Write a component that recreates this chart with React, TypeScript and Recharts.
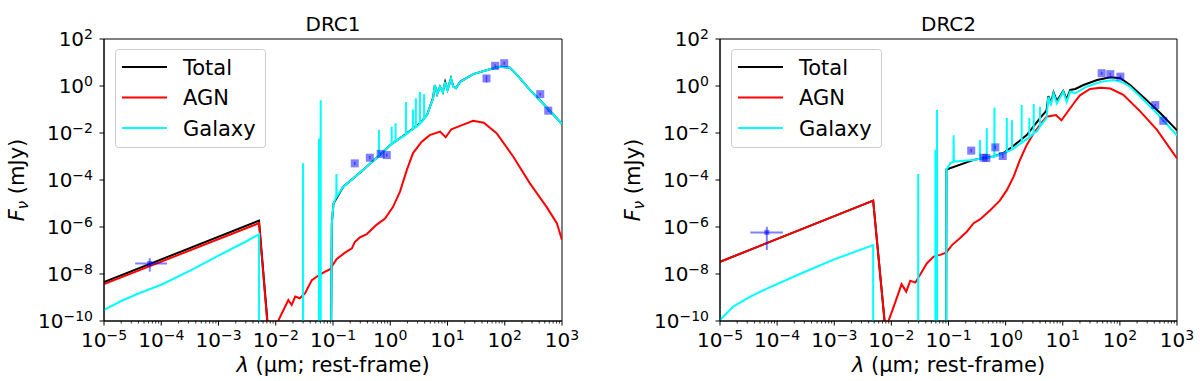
import React from "react";
import { ComposedChart, ErrorBar, Line, ReferenceArea, Scatter, XAxis, YAxis } from "recharts";

const FONT = "DejaVu Sans";

// [wavelength (um), F_nu (mJy)]
type Pt = [number, number];

const drc1Total: Pt[] = [
  [1e-5, 4.5e-9], [5.1e-3, 1.86e-6], [7.1e-3, 1.2e-10], [7.2e-3, 1e-14], [0.0905, 1e-14],
  [0.0955, 1.45e-6], [0.102, 1e-5], [0.151, 5.2e-5], [0.224, 1.17e-4], [0.339, 2.7e-4],
  [0.447, 5.1e-4], [0.66, 1.15e-3], [1.0, 3.1e-3], [1.7, 7.6e-3], [2.9, 2.0e-2],
  [3.5, 3.0e-2], [4.4, 6.0e-2], [5.6, 0.31], [6.0, 1.1], [6.6, 0.46], [7.4, 0.94], [8.3, 0.55],
  [9.1, 1.5], [10, 0.69], [11.5, 2.1], [12.6, 0.94], [14.1, 0.81], [16.6, 1.5], [28, 3.2],
  [55, 5.2], [83, 6.6], [123, 6.0], [170, 2.7], [275, 0.68], [468, 0.18], [1000, 2.4e-2],
];

const drc1Agn: Pt[] = [
  [1e-5, 3.7e-9], [5.1e-3, 1.45e-6], [7.1e-3, 1e-10], [7.2e-3, 1e-14], [1.09e-2, 1e-14],
  [1.1e-2, 1e-10], [1.66e-2, 7.8e-10], [1.9e-2, 4.8e-10], [2.19e-2, 1.1e-9], [2.63e-2, 9.3e-10],
  [3.24e-2, 1.5e-9], [4.27e-2, 5.5e-9], [5.25e-2, 7.8e-9], [6.76e-2, 1.15e-8], [8.9e-2, 1.6e-8],
  [0.115, 4.3e-8], [0.162, 8.1e-8], [0.214, 1.23e-7], [0.24, 2.3e-7], [0.295, 3.6e-7],
  [0.39, 5e-7], [0.575, 1.23e-6], [0.81, 2.3e-6], [1.12, 7.2e-6], [1.48, 3.2e-5],
  [1.95, 2.7e-4], [2.5, 1.4e-3], [3.55, 4.3e-3], [4.9, 8.1e-3], [7.4, 1.15e-2],
  [9.3, 6.6e-3], [11.7, 1.45e-2], [16.6, 2.0e-2], [28, 3.3e-2], [43, 2.75e-2],
  [72, 9.8e-3], [141, 9.8e-4], [275, 7.2e-5], [537, 7.2e-6], [813, 1.45e-6], [1000, 2.8e-7],
];

const drc1Galaxy: Pt[] = [
  [1e-5, 2.95e-10], [2e-5, 7.1e-10], [4e-5, 1.48e-9], [1e-4, 3.5e-9], [3.2e-4, 1.4e-8],
  [1e-3, 6e-8], [3.2e-3, 2.6e-7], [5.1e-3, 4.9e-7], [5.12e-3, 1e-14],
  [0.0299, 1e-14], [0.03, 5.1e-4], [0.0301, 1e-14],
  [0.0567, 1e-14], [0.0569, 5.9e-3], [0.0571, 1e-14],
  [0.0608, 1e-14], [0.061, 0.25], [0.0612, 1e-14],
  [0.0905, 1e-14], [0.0955, 1.45e-6], [0.102, 1e-5],
  [0.114, 1.9e-5], [0.115, 1.8e-4], [0.116, 1.95e-5],
  [0.151, 5.2e-5], [0.224, 1.17e-4], [0.339, 2.7e-4], [0.447, 5.1e-4],
  [0.634, 1.05e-3], [0.635, 1.35e-2], [0.636, 1.05e-3],
  [0.66, 1.15e-3], [1.0, 3.1e-3],
  [1.059, 3.4e-3], [1.06, 1.86e-2], [1.061, 3.4e-3],
  [1.239, 4.5e-3], [1.24, 2.6e-2], [1.241, 4.5e-3],
  [1.7, 7.4e-3],
  [1.878, 8.6e-3], [1.88, 0.21], [1.882, 8.6e-3],
  [2.497, 1.5e-2], [2.5, 0.1], [2.503, 1.5e-2],
  [2.797, 1.8e-2], [2.8, 0.3], [2.803, 1.8e-2],
  [2.9, 1.86e-2],
  [3.296, 2.5e-2], [3.3, 0.55], [3.304, 2.5e-2],
  [3.896, 4e-2], [3.9, 0.45], [3.904, 4e-2],
  [4.4, 5.9e-2], [5.6, 0.3], [6.0, 1.1], [6.6, 0.45], [7.4, 0.93], [8.3, 0.54],
  [9.1, 1.5], [10, 0.68], [11.5, 2.1], [12.6, 0.93], [14.1, 0.8], [16.6, 1.5], [28, 3.2],
  [55, 5.2], [83, 6.6], [123, 6.0], [170, 2.7], [275, 0.68], [468, 0.18], [1000, 2.4e-2],
];

// [wavelength, flux, flux low, flux high]
const drc1Phot: [number, number, number, number][] = [
  [0.24, 5.1e-4, 4.3e-4, 6e-4], [0.44, 8.9e-4, 7.6e-4, 1.04e-3], [0.68, 1.29e-3, 1.1e-3, 1.5e-3],
  [0.87, 1.15e-3, 9.8e-4, 1.35e-3], [48, 2.1, 1.4, 2.8], [68, 7.2, 6.2, 8.3],
  [98, 9.3, 8.0, 10.8], [417, 0.45, 0.4, 0.5], [575, 8.9e-2, 8e-2, 9.8e-2],
];
// [wavelength, flux, wl low, wl high, flux low, flux high]
const drc1Xray: [number, number, number, number, number, number][] = [
  [6.3e-5, 2.8e-8, 3.5e-5, 1.26e-4, 1.26e-8, 4.7e-8],
];

const drc2Total: Pt[] = [
  [1e-5, 3.3e-8], [4.8e-3, 1.32e-5], [7.6e-3, 1e-10], [7.7e-3, 1e-14], [0.0905, 1e-14],
  [0.092, 2.8e-4], [0.275, 7.2e-4], [0.617, 1e-3], [0.91, 1.4e-3], [1.2, 2.2e-3],
  [2.34, 8.1e-3], [4.0, 4.3e-2], [5.2, 9e-2], [5.6, 0.37], [6.2, 0.19], [6.9, 0.54], [7.9, 0.23],
  [10.2, 0.62], [11.7, 0.27], [13.5, 0.68], [16.6, 0.75], [23, 1.1], [40, 1.8], [68, 2.35],
  [102, 2.15], [151, 1.1], [295, 0.25], [513, 6.9e-2], [1000, 1.3e-2],
];

const drc2Agn: Pt[] = [
  [1e-5, 3.3e-8], [4.8e-3, 1.32e-5], [7.6e-3, 1e-10], [7.7e-3, 1e-14], [8.8e-3, 1e-14],
  [8.9e-3, 1e-10], [1.1e-2, 4.1e-10], [1.51e-2, 3.7e-9], [1.82e-2, 1.78e-9], [2.14e-2, 5.2e-9],
  [2.63e-2, 4.3e-9], [3.16e-2, 9.1e-9], [4.17e-2, 2.8e-8], [5.5e-2, 5.5e-8], [7.1e-2, 6.5e-8],
  [9.1e-2, 8.1e-8], [0.115, 1.7e-7], [0.158, 3.3e-7], [0.209, 6.3e-7], [0.275, 1.45e-6],
  [0.355, 2.1e-6], [0.537, 5.2e-6], [0.79, 1.32e-5], [1.05, 3.7e-5], [1.38, 1.38e-4],
  [1.78, 7.1e-4], [2.34, 3.1e-3], [3.1, 9.8e-3], [4.0, 2.2e-2], [5.2, 4.9e-2], [7.6, 5.8e-2],
  [9.5, 3.5e-2], [15.5, 0.18], [20, 0.4], [30, 0.75], [46, 0.85], [68, 0.78], [115, 0.42],
  [229, 8.1e-2], [447, 1.35e-2], [1000, 8.3e-4],
];

const drc2Galaxy: Pt[] = [
  [1e-5, 1.1e-10], [1.7e-5, 4.1e-10], [3.4e-5, 1.1e-9], [6.6e-5, 2.4e-9], [2.5e-4, 1e-8],
  [9.5e-4, 4e-8], [4.8e-3, 1.7e-7], [4.82e-3, 1e-14],
  [0.0294, 1e-14], [0.0295, 1.8e-4], [0.0296, 1e-14],
  [0.0588, 1e-14], [0.059, 1.9e-3], [0.0592, 1e-14],
  [0.0628, 1e-14], [0.063, 9.5e-2], [0.0632, 1e-14],
  [0.0905, 1e-14], [0.092, 2.7e-4], [0.107, 5.1e-4],
  [0.122, 6e-4], [0.123, 8.1e-3], [0.124, 6e-4],
  [0.182, 6.6e-4], [0.275, 7.1e-4],
  [0.354, 8e-4], [0.355, 5e-3], [0.356, 8e-4],
  [0.467, 8.7e-4], [0.468, 1.6e-2], [0.469, 8.7e-4],
  [0.617, 9.8e-4],
  [0.636, 1e-3], [0.637, 0.123], [0.638, 1e-3],
  [0.91, 1.38e-3],
  [1.049, 1.55e-3], [1.05, 4.3e-2], [1.051, 1.55e-3],
  [1.289, 2e-3], [1.29, 3.5e-2], [1.291, 2e-3],
  [1.38, 2.2e-3],
  [1.908, 3.9e-3], [1.91, 0.155], [1.912, 3.9e-3],
  [2.04, 4.3e-3],
  [2.597, 6.5e-3], [2.6, 4.3e-2], [2.603, 6.5e-3],
  [3.097, 9.8e-3], [3.1, 0.17], [3.103, 9.8e-3],
  [3.5, 1.15e-2],
  [3.996, 1.9e-2], [4.0, 0.13], [4.004, 1.9e-2],
  [5.2, 4.3e-2], [5.6, 0.35], [6.2, 0.15], [6.9, 0.49], [7.9, 0.18], [10.2, 0.58],
  [11.7, 0.21], [13.5, 0.58], [16.6, 0.49], [26, 0.93], [46, 1.5], [78, 1.8], [115, 1.4],
  [151, 0.93], [229, 0.35], [447, 6.9e-2], [1000, 7.8e-3],
];

const drc2Phot: [number, number, number, number][] = [
  [0.25, 1.78e-3, 1.5e-3, 2.1e-3], [0.41, 8.9e-4, 7.6e-4, 1.04e-3], [0.46, 8.6e-4, 7.3e-4, 1e-3],
  [0.66, 2.45e-3, 2.1e-3, 2.9e-3], [0.89, 1.05e-3, 8.5e-4, 1.3e-3], [48, 3.5, 3.0, 4.0],
  [68, 3.2, 2.8, 3.6], [102, 2.5, 2.2, 2.9], [417, 0.155, 0.14, 0.17], [575, 3.3e-2, 3e-2, 3.6e-2],
];
const drc2Xray: [number, number, number, number, number, number][] = [
  [6.6e-5, 5.9e-7, 3.4e-5, 1.26e-4, 1.05e-7, 1.02e-6],
];

const xMajor = [1e-5, 1e-4, 1e-3, 1e-2, 1e-1, 1, 10, 100, 1000];
const yMajor = [1e-10, 1e-8, 1e-6, 1e-4, 1e-2, 1, 100];
const xTicks = xMajor.flatMap((d, i) =>
  i === xMajor.length - 1 ? [d] : [d, ...[2, 3, 4, 5, 6, 7, 8, 9].map((m) => m * d)]
);

const legendItems = [
  { name: "Total", color: "#000000" },
  { name: "AGN", color: "#ff0000" },
  { name: "Galaxy", color: "#00ffff" },
];

const rows = (pts: Pt[]) => pts.map(([x, y]) => ({ x, y }));

const sup = (e: number) => (e < 0 ? "\u2212" + Math.abs(e) : String(e));

const XTick = (props: any) => {
  const { x, y, payload } = props;
  const lg = Math.log10(payload.value);
  const e = Math.round(lg);
  const major = Math.abs(lg - e) < 1e-6;
  return (
    <g>
      <line x1={x} x2={x} y1={y} y2={y + (major ? 4.5 : 2.5)} stroke="#000" strokeWidth={major ? 1 : 0.8} />
      {major && (
        <text x={x} y={y + 26} textAnchor="middle" fontSize={20} fontFamily={FONT} fill="#000">
          10<tspan dy={-7.5} fontSize={14}>{sup(e)}</tspan>
        </text>
      )}
    </g>
  );
};

const YTick = (props: any) => {
  const { x, y, payload } = props;
  const e = Math.round(Math.log10(payload.value));
  return (
    <g>
      <line x1={x - 4.5} x2={x} y1={y} y2={y} stroke="#000" strokeWidth={1} />
      <text x={x - 11} y={y + 7} textAnchor="end" fontSize={20} fontFamily={FONT} fill="#000">
        10<tspan dy={-7.5} fontSize={14}>{sup(e)}</tspan>
      </text>
    </g>
  );
};

const Square = (size: number) => (p: any) => (
  <rect x={p.cx - size / 2} y={p.cy - size / 2} width={size} height={size} fill="#0000ff" fillOpacity={0.5} />
);

interface PanelProps {
  left: number;
  plotLeft: number;
  plotRight: number;
  title: string;
  total: Pt[];
  agn: Pt[];
  galaxy: Pt[];
  phot: [number, number, number, number][];
  xray: [number, number, number, number, number, number][];
}

function SedPanel({ left, plotLeft, plotRight, title, total, agn, galaxy, phot, xray }: PanelProps) {
  const W = 600;
  const H = 381;
  // axes take 1px each, so the plot spans plotLeft..plotRight, 39..321
  const margin = { top: 39, right: W - plotRight, bottom: 59, left: plotLeft - 1 };
  const cx = (plotLeft + plotRight) / 2;
  const photRows = phot.map(([x, y, lo, hi]) => ({ x, y, ey: [y - lo, hi - y] }));
  const xrayRows = xray.map(([x, y, xlo, xhi, lo, hi]) => ({ x, y, ex: [x - xlo, xhi - x], ey: [y - lo, hi - y] }));

  return (
    <div style={{ position: "absolute", left, top: 0, width: W, height: H }}>
      <ComposedChart width={W} height={H} margin={margin}>
        <XAxis
          xAxisId="x"
          type="number"
          dataKey="x"
          scale="log"
          domain={[1e-5, 1e3]}
          allowDataOverflow
          ticks={xTicks}
          interval={0}
          tickLine={false}
          tickSize={0}
          tickMargin={0}
          height={1}
          tick={<XTick />}
          axisLine={{ stroke: "#000", strokeWidth: 1 }}
        />
        <YAxis
          yAxisId="y"
          type="number"
          scale="log"
          domain={[1e-10, 1e2]}
          allowDataOverflow
          ticks={yMajor}
          interval={0}
          tickLine={false}
          tickSize={0}
          tickMargin={0}
          width={1}
          tick={<YTick />}
          axisLine={{ stroke: "#000", strokeWidth: 1 }}
        />
        <ReferenceArea
          xAxisId="x"
          yAxisId="y"
          x1={1e-5}
          x2={1e3}
          y1={1e-10}
          y2={1e2}
          fill="none"
          stroke="#000"
          strokeWidth={1}
          ifOverflow="visible"
        />
        <Line xAxisId="x" yAxisId="y" data={rows(total)} dataKey="y" type="linear" stroke="#000000" strokeWidth={2} dot={false} isAnimationActive={false} />
        <Line xAxisId="x" yAxisId="y" data={rows(agn)} dataKey="y" type="linear" stroke="#ff0000" strokeWidth={2} dot={false} isAnimationActive={false} />
        <Line xAxisId="x" yAxisId="y" data={rows(galaxy)} dataKey="y" type="linear" stroke="#00ffff" strokeWidth={2} dot={false} isAnimationActive={false} />
        <Scatter xAxisId="x" yAxisId="y" data={xrayRows} dataKey="y" shape={Square(5)} isAnimationActive={false}>
          <ErrorBar dataKey="ex" direction="x" width={0} stroke="#0000ff" strokeOpacity={0.5} strokeWidth={2} isAnimationActive={false} />
          <ErrorBar dataKey="ey" direction="y" width={0} stroke="#0000ff" strokeOpacity={0.5} strokeWidth={2} isAnimationActive={false} />
        </Scatter>
        <Scatter xAxisId="x" yAxisId="y" data={photRows} dataKey="y" shape={Square(8)} isAnimationActive={false}>
          <ErrorBar dataKey="ey" direction="y" width={0} stroke="#0000ff" strokeOpacity={0.5} strokeWidth={1.5} isAnimationActive={false} />
        </Scatter>
      </ComposedChart>
      <svg width={W} height={H} style={{ position: "absolute", left: 0, top: 0, pointerEvents: "none" }} fontFamily={FONT}>
        <text x={cx} y={31} textAnchor="middle" fontSize={20} fill="#000">{title}</text>
        <text x={cx} y={372} textAnchor="middle" fontSize={21} fill="#000">
          <tspan fontStyle="italic">λ</tspan> (μm; rest-frame)
        </text>
        <text transform={`translate(${plotLeft - 80},180) rotate(-90)`} textAnchor="middle" fontSize={21} fill="#000">
          <tspan fontStyle="italic">F</tspan>
          <tspan fontStyle="italic" fontSize={15} dy={4}>ν</tspan>
          <tspan dy={-4}> (mJy)</tspan>
        </text>
        <g transform={`translate(${plotLeft + 11},49)`}>
          <rect x={0.5} y={0.5} width={150} height={98} rx={3} fill="#ffffff" fillOpacity={0.8} stroke="#cccccc" strokeWidth={1} />
          {legendItems.map((it, i) => (
            <g key={it.name}>
              <line x1={7} x2={52} y1={18 + i * 30.5} y2={18 + i * 30.5} stroke={it.color} strokeWidth={2} />
              <text x={68} y={18 + i * 30.5 + 7.5} fontSize={21} fill="#000">{it.name}</text>
            </g>
          ))}
        </g>
      </svg>
    </div>
  );
}

export default function App() {
  return (
    <div style={{ position: "absolute", left: 0, top: 0, width: 1200, height: 381, background: "#fff" }}>
      <SedPanel left={0} plotLeft={104} plotRight={562} title="DRC1" total={drc1Total} agn={drc1Agn} galaxy={drc1Galaxy} phot={drc1Phot} xray={drc1Xray} />
      <SedPanel left={600} plotLeft={120} plotRight={577} title="DRC2" total={drc2Total} agn={drc2Agn} galaxy={drc2Galaxy} phot={drc2Phot} xray={drc2Xray} />
    </div>
  );
}
